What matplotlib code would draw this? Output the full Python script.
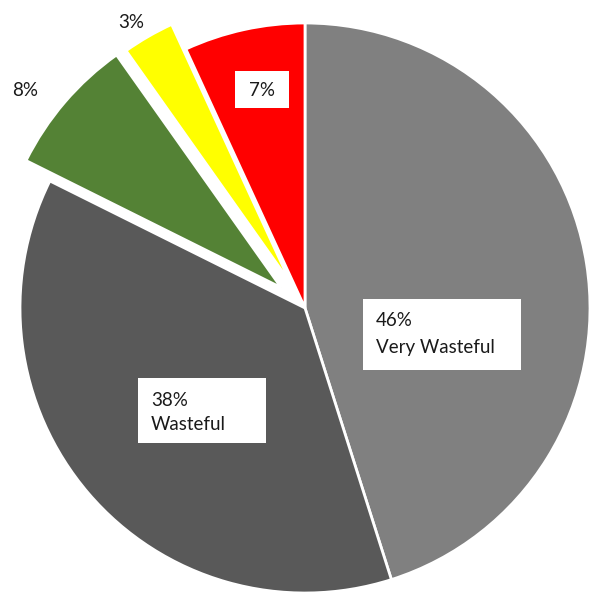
import matplotlib
matplotlib.use('Agg')
import matplotlib.pyplot as plt
from matplotlib.patches import Rectangle

# waste categories, clockwise from 12 o'clock
labels = ['Very Wasteful', 'Wasteful', '', '', '']
values = [46, 38, 8, 3, 7]
colors = ['#808080', '#595959', '#548235', '#ffff00', '#ff0000']
explode = [0, 0, 0.11, 0.1, 0]

W, H = 591, 596
plt.rcParams['font.family'] = ['Lato', 'DejaVu Sans']

fig = plt.figure(figsize=(W / 100, H / 100), dpi=100)
ax = fig.add_axes([0, 0, 1, 1])

cx, cy, r = 305, H - 308, 285
# pie() takes explode in data units, so scale by the radius
ax.pie(values, colors=colors, explode=[e * r for e in explode], startangle=90,
       counterclock=False, center=(cx, cy), radius=r, frame=True,
       wedgeprops=dict(edgecolor='white', linewidth=2))
ax.set_xlim(0, W)
ax.set_ylim(0, H)
ax.set_aspect('equal')
ax.axis('off')

txt = '#1a1a1a'
fs = 13.5


def box(x0, y0, x1, y1):
    # white label box given in top-left pixel coords
    ax.add_patch(Rectangle((x0, H - y1), x1 - x0, y1 - y0,
                           facecolor='white', edgecolor='none', zorder=3))


# boxed labels on the big slices
box(363, 299, 521, 370)
ax.text(376, H - 321, f'{values[0]}%', color=txt, fontsize=fs, va='center', zorder=4)
ax.text(376, H - 347, labels[0], color=txt, fontsize=fs, va='center', zorder=4)

box(138, 378, 266, 443)
ax.text(151, H - 400, f'{values[1]}%', color=txt, fontsize=fs, va='center', zorder=4)
ax.text(151, H - 424, labels[1], color=txt, fontsize=fs, va='center', zorder=4)

box(235, 71, 289, 108)
ax.text(262, H - 91, f'{values[4]}%', color=txt, fontsize=fs, ha='center', va='center', zorder=4)

# small slices labelled outside
ax.text(25, H - 91, f'{values[2]}%', color=txt, fontsize=fs, ha='center', va='center')
ax.text(131, H - 22, f'{values[3]}%', color=txt, fontsize=fs, ha='center', va='center')

fig.savefig('out.png', dpi=100, facecolor='white')
